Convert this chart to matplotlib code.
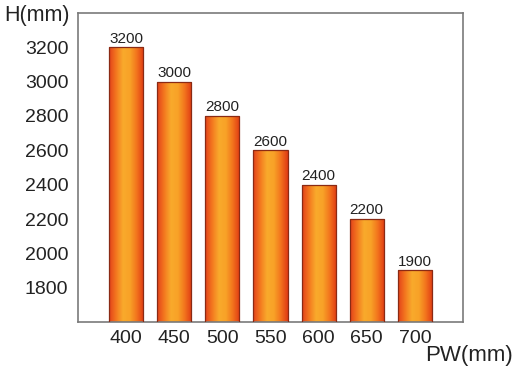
import numpy as np
import matplotlib.pyplot as plt
from matplotlib.colors import LinearSegmentedColormap

plt.rcParams['font.family'] = ['Liberation Sans', 'DejaVu Sans']

widths = ["400", "450", "500", "550", "600", "650", "700"]
heights = [3200, 3000, 2800, 2600, 2400, 2200, 1900]

fig = plt.figure(figsize=(5.2, 3.73), dpi=100)
ax = fig.add_axes([78 / 520, 1 - 322 / 373, 385 / 520, 309 / 373])

cmap = LinearSegmentedColormap.from_list(
    "bar", ["#e4421a", "#f3781f", "#f9aa2c", "#f8a227", "#f2741d", "#e03c14"])
grad = np.linspace(0, 1, 64).reshape(1, -1)

x = np.arange(len(widths))
bars = ax.bar(x, heights, width=0.71, bottom=0, color="none",
              edgecolor="#8a2a14", linewidth=0.9, zorder=3)
for b, h in zip(bars, heights):
    x0 = b.get_x()
    im = ax.imshow(grad, cmap=cmap, aspect="auto", zorder=2,
                   extent=[x0, x0 + b.get_width(), 1600, h])
    im.set_clip_path(b)
    ax.text(b.get_x() + b.get_width() / 2, h + 10, str(h), ha="center",
            va="bottom", fontsize=11, color="#222222")

ax.set_xlim(-1, 7)
ax.set_ylim(1600, 3400)
ax.set_xticks(x)
ax.set_xticklabels(widths)
ax.set_yticks(range(1800, 3201, 200))
ax.tick_params(length=0, labelsize=14, colors="#222222")
ax.tick_params(axis="y", pad=7)
ax.tick_params(axis="x", pad=6)
for s in ax.spines.values():
    s.set_color("#7a7a7a")
    s.set_linewidth(1.2)

fig.text(4 / 520, 1 - 16 / 373, "H(mm)", fontsize=15.5, color="#222222",
         va="center", ha="left")
fig.text(513 / 520, 1 - 355 / 373, "PW(mm)", fontsize=16, color="#222222",
         va="center", ha="right")

fig.savefig("out.png", dpi=100)
